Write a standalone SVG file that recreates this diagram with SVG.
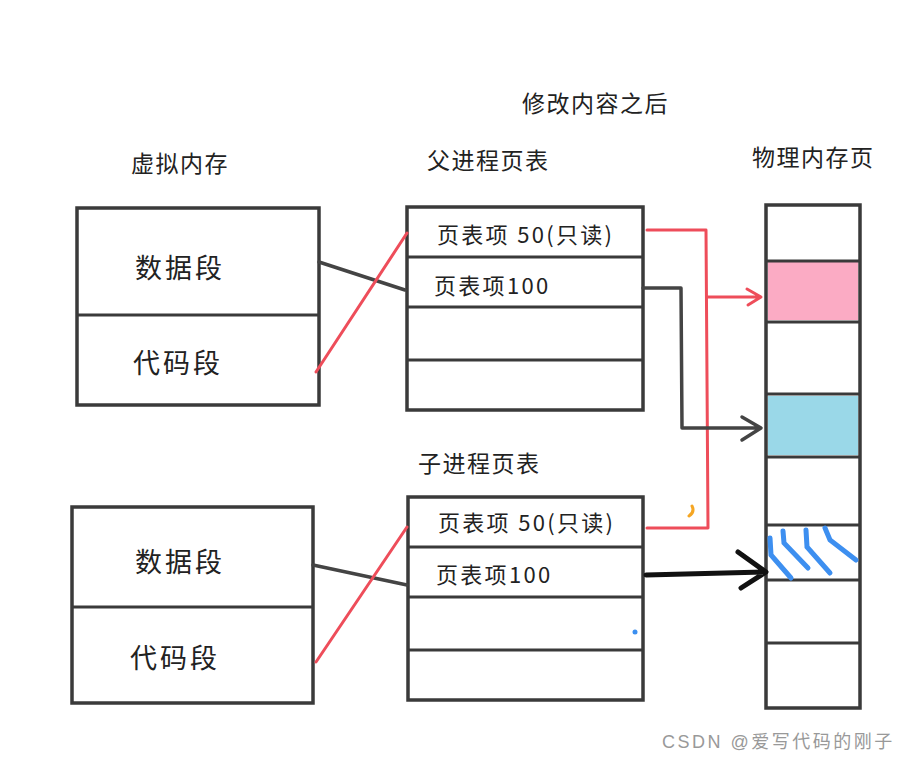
<svg xmlns="http://www.w3.org/2000/svg" width="916" height="760" viewBox="0 0 916 760">
<defs>
<style>
.box{fill:#fff;stroke:#3a3a3a;stroke-width:3.5}
.div{stroke:#3a3a3a;stroke-width:3}
.t{font-family:"Noto Sans CJK SC","Noto Sans",sans-serif;fill:#222}
.seg{font-size:27px;letter-spacing:3px}
.ent{font-size:22px;letter-spacing:2.3px}
.ttl{font-size:23px;letter-spacing:1.5px}
.red{fill:none;stroke:#ee4d5a;stroke-width:3;stroke-linejoin:round;stroke-linecap:round}
.dark{fill:none;stroke:#444;stroke-width:3.5;stroke-linejoin:round;stroke-linecap:round}
</style>
</defs>
<rect width="916" height="760" fill="#fff"/>

<g id="titles">
<text class="t ttl" x="522" y="112">修改内容之后</text>
<text class="t ttl" x="131" y="172">虚拟内存</text>
<text class="t ttl" x="427" y="169">父进程页表</text>
<text class="t ttl" x="752" y="166">物理内存页</text>
<text class="t ttl" x="418" y="472">子进程页表</text>
</g>

<g id="vm-parent">
<rect class="box" x="77" y="208" width="242" height="197"/>
<line class="div" x1="77" y1="315" x2="319" y2="315"/>
<text class="t seg" x="135" y="278">数据段</text>
<text class="t seg" x="133" y="373">代码段</text>
</g>

<g id="vm-child">
<rect class="box" x="72" y="507" width="241" height="196"/>
<line class="div" x1="72" y1="607" x2="313" y2="607"/>
<text class="t seg" x="135" y="572">数据段</text>
<text class="t seg" x="130" y="668">代码段</text>
</g>

<g id="pt-parent">
<rect class="box" x="407" y="207" width="236" height="203"/>
<line class="div" x1="407" y1="257" x2="643" y2="257"/>
<line class="div" x1="407" y1="307" x2="643" y2="307"/>
<line class="div" x1="407" y1="360" x2="643" y2="360"/>
<text class="t ent" x="437" y="243">页表项 50(只读)</text>
<text class="t ent" x="434" y="294">页表项100</text>
</g>

<g id="pt-child">
<rect class="box" x="408" y="497" width="235" height="203"/>
<line class="div" x1="408" y1="547" x2="643" y2="547"/>
<line class="div" x1="408" y1="597" x2="643" y2="597"/>
<line class="div" x1="408" y1="650" x2="643" y2="650"/>
<text class="t ent" x="438" y="531">页表项 50(只读)</text>
<text class="t ent" x="436" y="583">页表项100</text>
<circle cx="635" cy="632" r="2.5" fill="#3b8ff0"/>
</g>

<g id="physical">
<rect class="box" x="766" y="205" width="94" height="503"/>
<rect x="768" y="262" width="90" height="58" fill="#fbabc4"/>
<rect x="768" y="396" width="90" height="59" fill="#9ad8e8"/>
<line class="div" x1="766" y1="261" x2="860" y2="261"/>
<line class="div" x1="766" y1="322" x2="860" y2="322"/>
<line class="div" x1="766" y1="394" x2="860" y2="394"/>
<line class="div" x1="766" y1="457" x2="860" y2="457"/>
<line class="div" x1="766" y1="525" x2="860" y2="525"/>
<line class="div" x1="766" y1="580" x2="860" y2="580"/>
<line class="div" x1="766" y1="643" x2="860" y2="643"/>
<g fill="none" stroke="#3d8ff0" stroke-width="5" stroke-linecap="round">
<path d="M770 538 L771 555 L791 578"/>
<path d="M783 531 L784 543 L808 568"/>
<path d="M806 530 L807 547 L830 573"/>
<path d="M825 528 L830 540 L856 560"/>
</g>
</g>

<g id="connectors">
<line class="dark" x1="319" y1="262" x2="405" y2="290" stroke-width="3"/>
<line class="red" x1="316" y1="372" x2="407" y2="233"/>
<line class="dark" x1="313" y1="565" x2="407" y2="585" stroke-width="3"/>
<line class="red" x1="316" y1="662" x2="407" y2="527"/>

<path class="red" d="M647 230 L706 230 L708 528 L647 528"/>
<path class="red" d="M708 297 L760 297 M747 289 L761 297 L748 305"/>

<path class="dark" d="M643 288 L681 288 L682 428 L760 428 M742 417 L761 428 L742 440"/>

<path fill="none" stroke="#111" stroke-width="5" stroke-linecap="round" stroke-linejoin="round" d="M646 575 L765 572 M738 552 L766 572 L741 588"/>
<path d="M692 506 q3 6 -3 10" fill="none" stroke="#f5a623" stroke-width="3" stroke-linecap="round"/>
</g>

<text x="662" y="748" font-family="Liberation Sans,Noto Sans CJK SC,sans-serif" font-size="18" letter-spacing="2.5" fill="#999">CSDN @爱写代码的刚子</text>
</svg>
